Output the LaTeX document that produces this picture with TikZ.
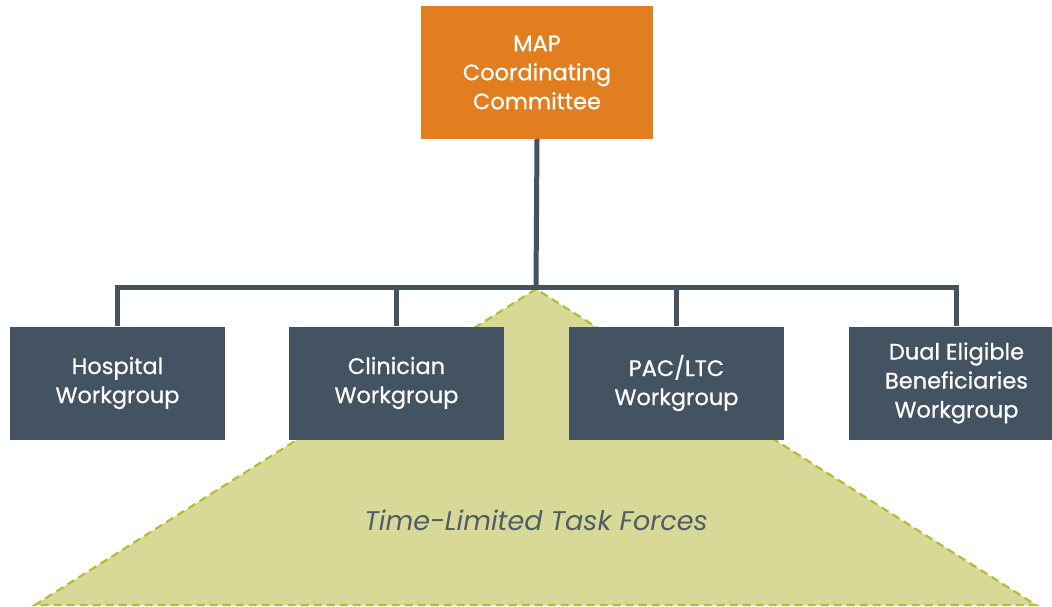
\documentclass[tikz,border=0pt]{standalone}
\usepackage{fontspec}
\setmainfont{Poppins}[FakeBold=0.6]
\newfontfamily\itfont{Poppins}
\definecolor{slate}{HTML}{435361}
\definecolor{mapor}{HTML}{E27E1F}
\definecolor{trif}{HTML}{D8D996}
\definecolor{trid}{HTML}{B3BD35}
\definecolor{itxt}{HTML}{4E5D6B}
\tikzset{
  wg/.style={fill=slate, text=white, minimum width=215pt, minimum height=113pt, align=center, inner sep=0pt,
    font=\fontsize{22.5pt}{29pt}\selectfont},
  conn/.style={draw=slate, line width=5pt},
  tri/.style={fill=trif, draw=trid, line width=2.2pt, dash pattern=on 8pt off 5pt}
}
\begin{document}
\begin{tikzpicture}[x=1pt,y=-1pt]
\useasboundingbox (0,0) rectangle (1052,607);
\fill[white] (0,0) rectangle (1052,607);
% triangle
\coordinate (apex) at (536,289);
\coordinate (bl) at (35,605);
\coordinate (br) at (1036,605);
\path[tri] (apex) -- (bl) -- (br) -- cycle;
\node[text=itxt, font=\itfont\fontsize{27pt}{29pt}\selectfont\itshape] (tf) at (536,520) {Time-Limited Task Forces};
% top box
\node[fill=mapor, text=white, minimum width=232pt, minimum height=133pt, align=center, inner sep=0pt,
  font=\fontsize{22.5pt}{29pt}\selectfont] (map) at (537,72.5) {MAP\\Coordinating\\Committee};
% workgroups
\node[wg] (hosp) at (117.5,383) {Hospital\\Workgroup};
\node[wg] (clin) at (396.5,383) {Clinician\\Workgroup};
\node[wg] (pac) at (676.5,383) {PAC/LTC\\Workgroup};
\node[wg] (dual) at (956.5,383) {Dual Eligible\\Beneficiaries\\Workgroup};
% connectors
\coordinate (bus) at (536,287);
\draw[conn] (map.south) -- (bus);
\draw[conn] (hosp.north) |- (bus) -| (dual.north);
\draw[conn] (clin.north) -- (clin.north |- bus);
\draw[conn] (pac.north) -- (pac.north |- bus);
\end{tikzpicture}
\end{document}
